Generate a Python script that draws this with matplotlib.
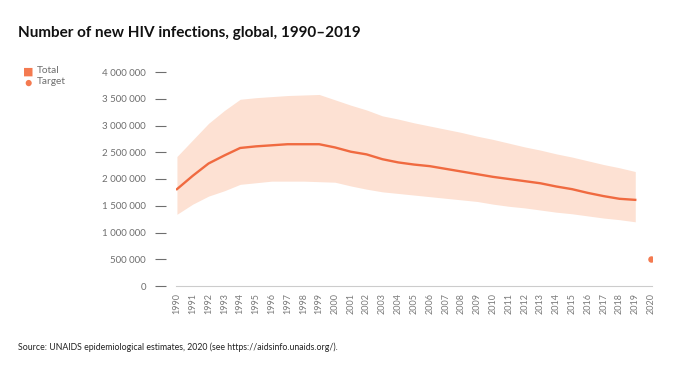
import matplotlib
matplotlib.use("Agg")
import matplotlib.pyplot as plt
from matplotlib.ticker import FuncFormatter

years = list(range(1990, 2020))
total = [1.81, 2.06, 2.29, 2.44, 2.58, 2.61, 2.63, 2.65, 2.65, 2.65,
         2.59, 2.51, 2.46, 2.37, 2.31, 2.27, 2.24, 2.19, 2.14, 2.09,
         2.04, 2.00, 1.96, 1.92, 1.86, 1.81, 1.74, 1.68, 1.63, 1.61]
upper = [2.42, 2.73, 3.04, 3.28, 3.49, 3.52, 3.54, 3.56, 3.57, 3.58,
         3.48, 3.38, 3.29, 3.18, 3.12, 3.05, 2.99, 2.93, 2.87, 2.80,
         2.74, 2.67, 2.60, 2.54, 2.47, 2.41, 2.34, 2.27, 2.21, 2.14]
lower = [1.34, 1.53, 1.68, 1.78, 1.90, 1.93, 1.96, 1.96, 1.96, 1.95,
         1.94, 1.87, 1.81, 1.76, 1.73, 1.70, 1.67, 1.64, 1.61, 1.58,
         1.53, 1.49, 1.46, 1.42, 1.38, 1.35, 1.31, 1.27, 1.24, 1.20]
target_year = [2020]
target_value = [0.5]
xticks = list(range(1990, 2021))
yticks = [0, 500000, 1000000, 1500000, 2000000, 2500000, 3000000, 3500000, 4000000]

total_v = [v * 1e6 for v in total]
upper_v = [v * 1e6 for v in upper]
lower_v = [v * 1e6 for v in lower]
target_v = [v * 1e6 for v in target_value]

plt.rcParams['font.family'] = ['Lato', 'DejaVu Sans']

LINE = '#F06A40'
FILL = '#FDE1D3'
DOT = '#F47A50'
GRAY = '#6E6E6E'

fig = plt.figure(figsize=(6.75, 3.75), dpi=100)
ax = fig.add_axes([176/675, (375-286)/375, (652-176)/675, (286-72)/375])

ax.fill_between(years, lower_v, upper_v, color=FILL, linewidth=0)
ax.plot(years, total_v, color=LINE, linewidth=1.7)
ax.scatter(target_year, target_v, color=DOT, s=22, zorder=3, linewidths=0)

ax.set_xlim(1989.94, 2020.06)
ax.set_ylim(0, 4000000)
ax.set_xticks(xticks)
ax.set_xticklabels([str(y) for y in xticks], rotation=90, fontsize=6.5, color='#7A7A7A')
ax.set_yticks(yticks)
ax.yaxis.set_major_formatter(FuncFormatter(lambda v, p: f"{int(v):,}".replace(",", " ")))
ax.tick_params(axis='y', length=8, width=0.8, color=GRAY, labelsize=7, labelcolor=GRAY, pad=6.5)
ax.tick_params(axis='x', length=0, pad=5)

for s in ['top', 'right']:
    ax.spines[s].set_visible(False)
ax.spines['left'].set_position(('outward', 7.2))
ax.spines['left'].set_visible(False)
ax.spines['bottom'].set_color('#CCCCCC')
ax.spines['bottom'].set_linewidth(0.8)

fig.text(18/675, 1 - 37/375, "Number of new HIV infections, global, 1990\u20132019",
         fontsize=11, fontweight='bold', color='#111111', va='baseline', ha='left')

fig.text(28/675, 1 - 71/375, "\u25A0", fontsize=8, color=DOT, va='center', ha='center')
fig.text(37/675, 1 - 70.5/375, "Total", fontsize=7.3, color=GRAY, va='center', ha='left')
fig.text(28/675, 1 - 82.5/375, "\u25CF", fontsize=9, color=DOT, va='center', ha='center')
fig.text(37/675, 1 - 82/375, "Target", fontsize=7.3, color=GRAY, va='center', ha='left')

fig.text(18/675, 1 - 347/375,
         "Source: UNAIDS epidemiological estimates, 2020 (see https://aidsinfo.unaids.org/).",
         fontsize=6.3, color='#222222', va='center', ha='left')

fig.savefig("out.png", dpi=100, facecolor='white')
